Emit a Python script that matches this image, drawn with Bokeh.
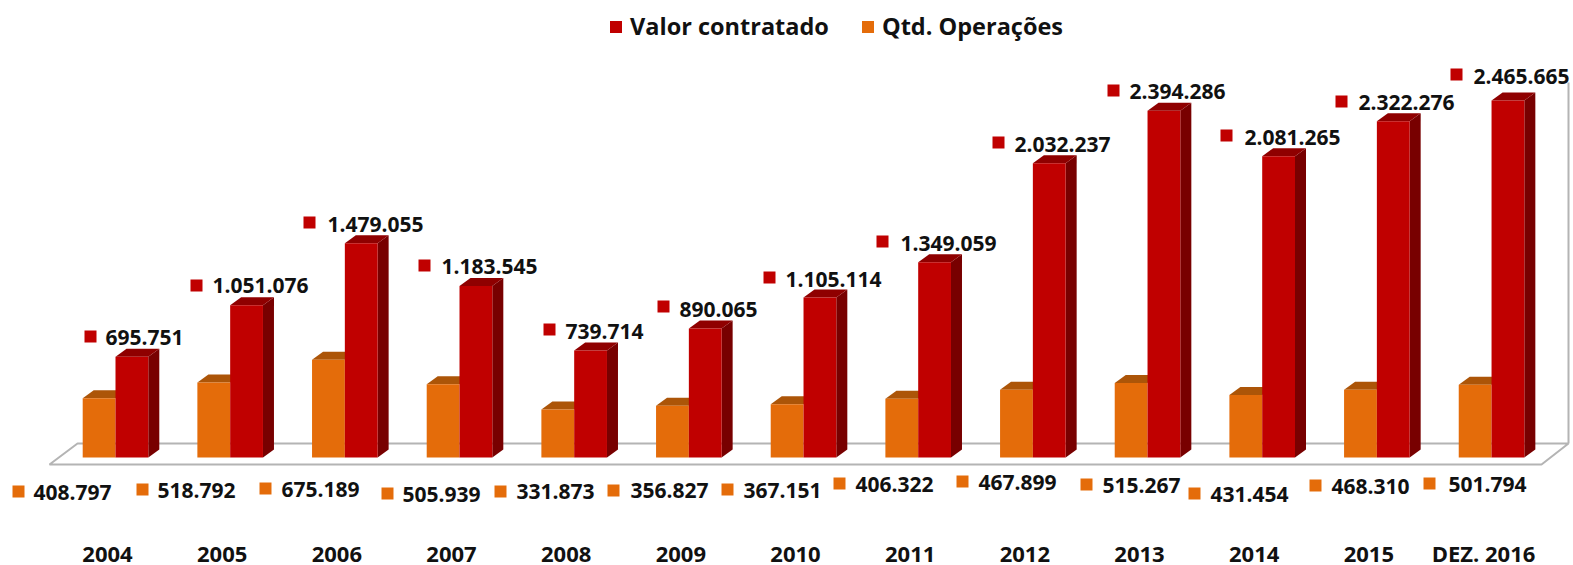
from bokeh.plotting import figure
from bokeh.models import Legend, LegendItem, ColumnDataSource, FixedTicker
from bokeh.embed import file_html
from bokeh.resources import INLINE
from bokeh.core.properties import value

# ---- data ----
categories = ["2004","2005","2006","2007","2008","2009","2010","2011","2012","2013","2014","2015","DEZ. 2016"]
valor_contratado = [695751,1051076,1479055,1183545,739714,890065,1105114,1349059,2032237,2394286,2081265,2322276,2465665]
qtd_operacoes = [408797,518792,675189,505939,331873,356827,367151,406322,467899,515267,431454,468310,501794]

# ---- label placement (page pixels, hand-placed in the original) ----
red_mx = [90,196,309,424,549,663,769,882,998,1113,1226,1341,1456]
red_my = [336,285,222,265,329,306,277,241,142,90,135,101,74]
red_tx = [105,212,327,441,565,679,785,900,1014,1129,1244,1358,1473]
red_ty = [337,285,224,266,331,309,279,243,144,91,137,102,76]
org_mx = [18,142,265,387,500,613,727,839,962,1086,1194,1315,1429]
org_my = [491,489,488,493,491,490,489,483,481,484,493,485,483]
org_tx = [33,157,281,402,516,630,743,855,978,1102,1210,1331,1448]
org_ty = [492,490,489,494,491,490,490,484,482,485,494,486,484]

RED, RED_TOP, RED_SIDE = "#C00000", "#8F0000", "#780000"
ORG, ORG_TOP = "#E46C0A", "#AC5508"
FLOOR = "#B4B4B4"

PX_PER_CAT, X0 = 114.67, 107.0
PX_PER_UNIT, BASE = 1.448e-4, 457.0
def dx(px): return (px - X0) / PX_PER_CAT
def dy(py): return (BASE - py) / PX_PER_UNIT
BAR, DEPTH_X, DEPTH_Y, SHIFT = 32.8, 11.0, 8.0, 8.0

W, FH = 1573, 527
p = figure(frame_width=W, frame_height=FH, output_backend="svg", toolbar_location=None,
           x_range=(dx(0), dx(W)), y_range=(dy(FH), dy(0)),
           min_border_left=0, min_border_right=0, min_border_top=0, min_border_bottom=0,
           y_axis_location=None, x_axis_location="below", outline_line_color=None,
           background_fill_color="white", border_fill_color="white")
p.grid.visible = False
ax = p.xaxis[0]
ax.ticker = FixedTicker(ticks=list(range(len(categories))))
ax.major_label_overrides = {i: c for i, c in enumerate(categories)}
ax.axis_line_color = None
ax.major_tick_line_color = None
ax.minor_tick_line_color = None
ax.major_label_standoff = 4
ax.major_label_text_font = "Open Sans"
ax.major_label_text_font_style = "bold"
ax.major_label_text_font_size = "22px"
ax.major_label_text_color = "#111111"

# floor and right wall
d = dx
p.patch([d(49), d(77), d(1568), d(1541)], [dy(464), dy(443), dy(443), dy(464)],
        fill_color="white", line_color=FLOOR, line_width=2)
p.line([d(1568), d(1568)], [dy(443), dy(82)], line_color=FLOOR, line_width=2)

n = len(categories)
unit_x = 1 / PX_PER_CAT
shift = SHIFT * unit_x
bw = BAR * unit_x
ox = DEPTH_X * unit_x
oy = DEPTH_Y / PX_PER_UNIT

xs_o_top, ys_o_top, xs_r_top, ys_r_top, xs_r_side, ys_r_side = [], [], [], [], [], []
for i in range(n):
    c = i + shift
    o, r = qtd_operacoes[i], valor_contratado[i]
    xs_o_top.append([c - bw, c - bw + ox, c + ox, c])
    ys_o_top.append([o, o + oy, o + oy, o])
    xs_r_top.append([c, c + ox, c + bw + ox, c + bw])
    ys_r_top.append([r, r + oy, r + oy, r])
    xs_r_side.append([c + bw, c + bw + ox, c + bw + ox, c + bw])
    ys_r_side.append([0, oy, r + oy, r])

p.patches(xs_o_top, ys_o_top, fill_color=ORG_TOP, line_color=None)
ro = p.quad(left=[i + shift - bw for i in range(n)], right=[i + shift for i in range(n)],
            bottom=0, top=qtd_operacoes, fill_color=ORG, line_color=None)
p.patches(xs_r_side, ys_r_side, fill_color=RED_SIDE, line_color=None)
p.patches(xs_r_top, ys_r_top, fill_color=RED_TOP, line_color=None)
rr = p.quad(left=[i + shift for i in range(n)], right=[i + shift + bw for i in range(n)],
            bottom=0, top=valor_contratado, fill_color=RED, line_color=None)

def fmt(v): return f"{v:,}".replace(",", ".")

def labels(mx, my, tx, ty, vals, col):
    p.scatter([dx(a) for a in mx], [dy(b) for b in my], marker="square", size=12,
              fill_color=col, line_color=None)
    src = ColumnDataSource(dict(x=[dx(a) for a in tx], y=[dy(b) for b in ty], t=[fmt(v) for v in vals]))
    p.text("x", "y", text="t", source=src, text_font=value("Open Sans"), text_font_style="bold",
           text_font_size="21px", text_baseline="middle", text_align="left", text_color="#111111")

labels(red_mx, red_my, red_tx, red_ty, valor_contratado, RED)
labels(org_mx, org_my, org_tx, org_ty, qtd_operacoes, ORG)

leg = Legend(items=[LegendItem(label="Valor contratado", renderers=[rr]),
                    LegendItem(label="Qtd. Operações", renderers=[ro])],
             orientation="horizontal", location=(608, FH - 42), padding=0, margin=0, spacing=31,
             glyph_width=15, glyph_height=15, label_standoff=7,
             label_text_font="Open Sans", label_text_font_style="bold", label_text_font_size="23.5px",
             label_text_color="#111111", border_line_color=None, background_fill_alpha=0)
p.add_layout(leg, "center")

open("out.html", "w").write(file_html(p, INLINE))
